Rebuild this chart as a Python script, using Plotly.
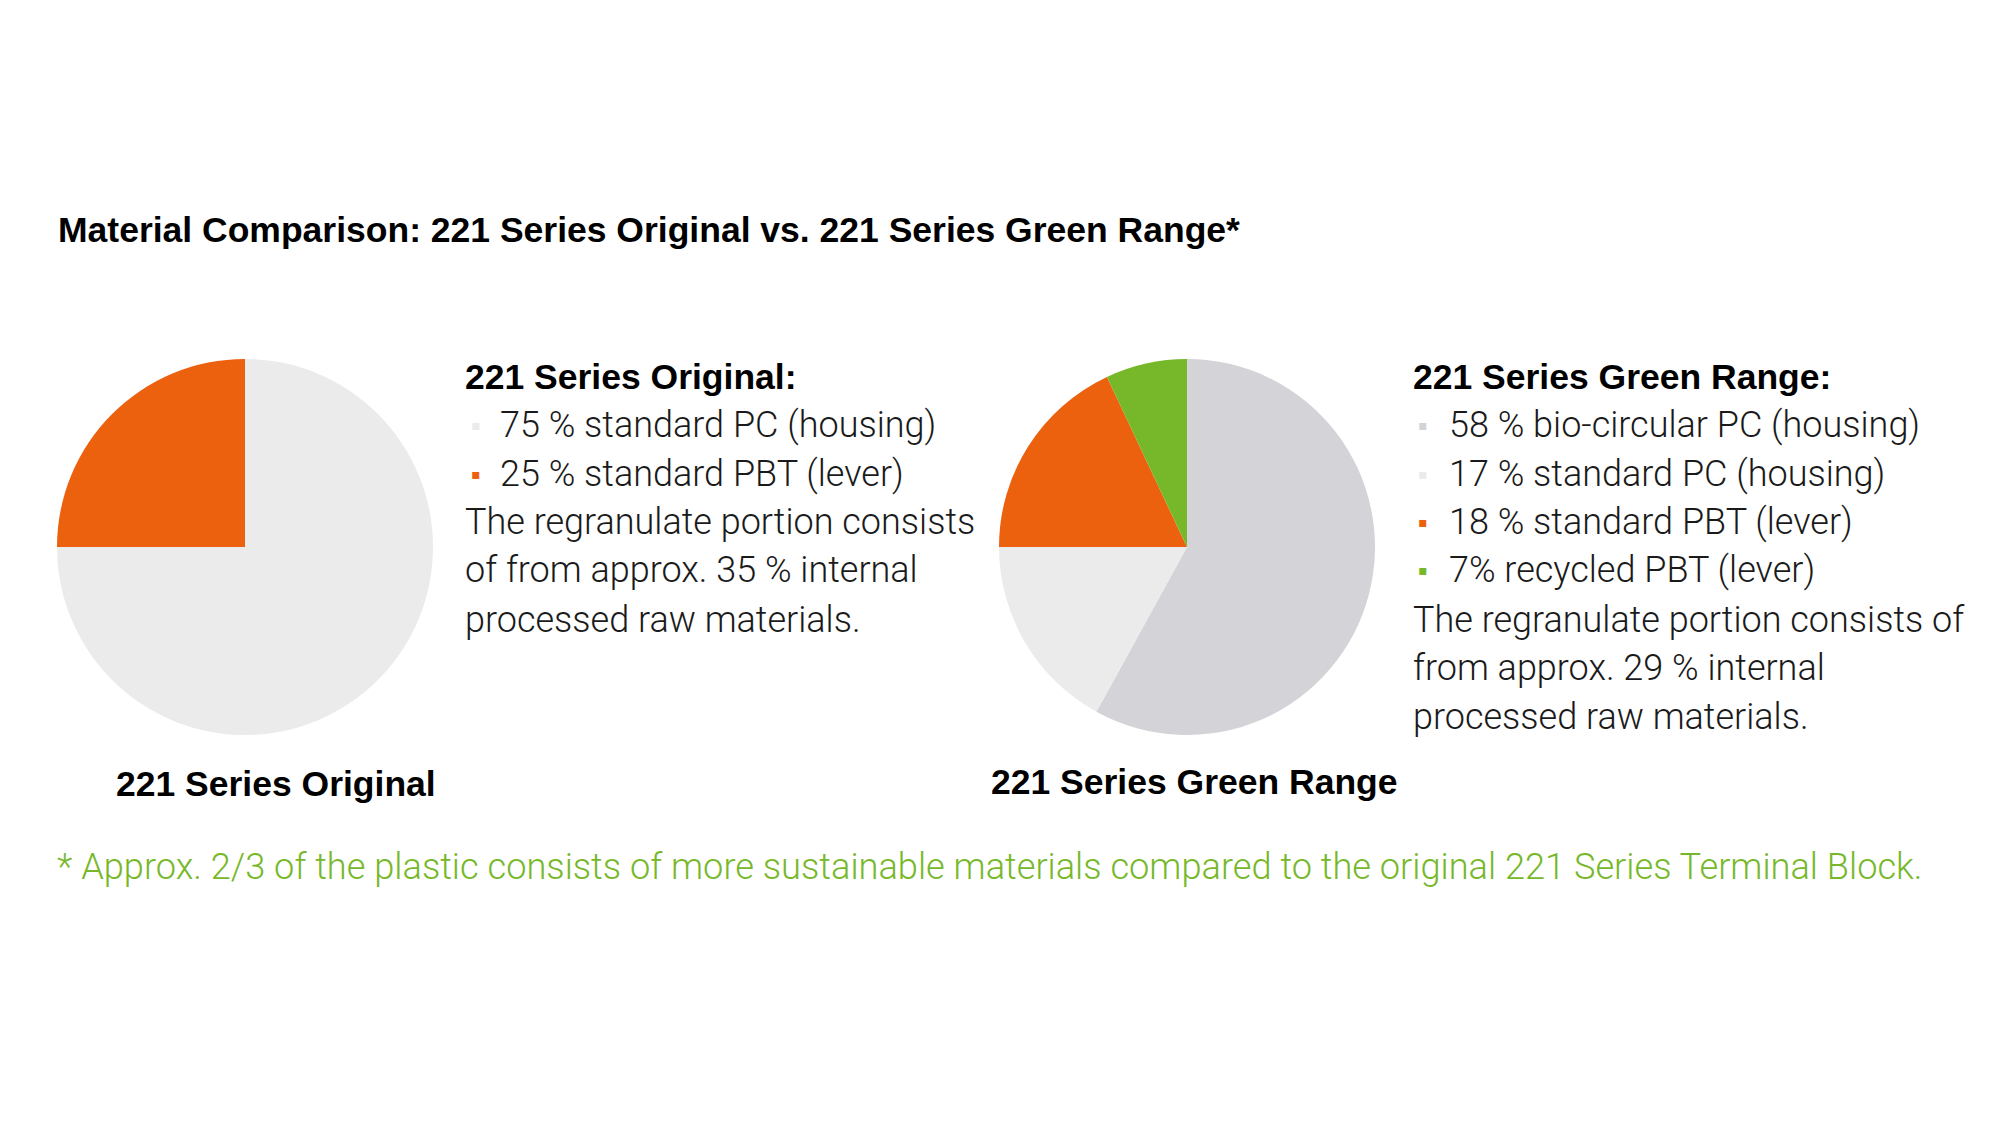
import plotly.graph_objects as go

W, H = 2000, 1125
OFF = 8  # body margin of the html page

orig_labels = ["standard PC (housing)", "standard PBT (lever)"]
orig_values = [75, 25]
orig_colors = ["#ebebeb", "#ec610e"]

green_labels = ["bio-circular PC (housing)", "standard PC (housing)", "standard PBT (lever)", "recycled PBT (lever)"]
green_values = [58, 17, 18, 7]
green_colors = ["#d4d4d8", "#ebebeb", "#ec610e", "#76b82a"]

orig_bullets = ["75 % standard PC (housing)", "25 % standard PBT (lever)"]
orig_note = ["The regranulate portion consists", "of from approx. 35 % internal", "processed raw materials."]
green_bullets = ["58 % bio-circular PC (housing)", "17 % standard PC (housing)",
                 "18 % standard PBT (lever)", "7% recycled PBT (lever)"]
green_note = ["The regranulate portion consists of", "from approx. 29 % internal", "processed raw materials."]

title = "Material Comparison: 221 Series Original vs. 221 Series Green Range*"
footnote = "* Approx. 2/3 of the plastic consists of more sustainable materials compared to the original 221 Series Terminal Block."

BOLD = "Liberation Sans, Arial, sans-serif"
LIGHT = "Roboto, Liberation Sans, sans-serif"


def fx(x):
    return (x - OFF) / W


def fy(y):
    return 1 - (y - OFF) / H


fig = go.Figure()
fig.add_trace(go.Pie(values=orig_values, labels=orig_labels, marker=dict(colors=orig_colors),
                     sort=False, direction="clockwise", textinfo="none", hoverinfo="label+percent",
                     domain=dict(x=[fx(57), fx(433)], y=[fy(735), fy(359)])))
fig.add_trace(go.Pie(values=green_values, labels=green_labels, marker=dict(colors=green_colors),
                     sort=False, direction="clockwise", textinfo="none", hoverinfo="label+percent",
                     domain=dict(x=[fx(999), fx(1375)], y=[fy(735), fy(359)])))

ann = []


def text(x, y, s, size, color="#1a1a1a", family=LIGHT, weight=300, anchor="left"):
    ann.append(dict(x=fx(x), y=fy(y), xref="paper", yref="paper", text=s, showarrow=False,
                    xanchor=anchor, yanchor="middle", borderpad=0,
                    font=dict(size=size, color=color, family=family, weight=weight)))


text(57, 230, title, 35.5, color="#000000", family=BOLD, weight=700)

line_y = [377, 425, 474, 522, 570, 620, 668, 717]

# 221 Series Original block
text(464, line_y[0], "221 Series Original:", 35.5, color="#000000", family=BOLD, weight=700)
for i, s in enumerate(orig_bullets):
    text(470, line_y[1 + i], "▪", 28, color=orig_colors[i])
    text(499, line_y[1 + i], s, 36)
for i, s in enumerate(orig_note):
    text(464, line_y[1 + len(orig_bullets) + i], s, 36)

# 221 Series Green Range block
text(1412, line_y[0], "221 Series Green Range:", 35.5, color="#000000", family=BOLD, weight=700)
for i, s in enumerate(green_bullets):
    text(1417, line_y[1 + i], "▪", 28, color=green_colors[i])
    text(1448, line_y[1 + i], s, 36)
for i, s in enumerate(green_note):
    text(1412, line_y[1 + len(green_bullets) + i], s, 36)

text(276, 784, "221 Series Original", 35.5, color="#000000", family=BOLD, weight=700, anchor="center")
text(1194, 782, "221 Series Green Range", 35.5, color="#000000", family=BOLD, weight=700, anchor="center")

text(56, 866, footnote, 36.2, color="#76b82a")

fig.update_layout(width=W, height=H, margin=dict(l=0, r=0, t=0, b=0),
                  paper_bgcolor="white", plot_bgcolor="white", showlegend=False,
                  annotations=ann)
fig.write_html("out.html")
